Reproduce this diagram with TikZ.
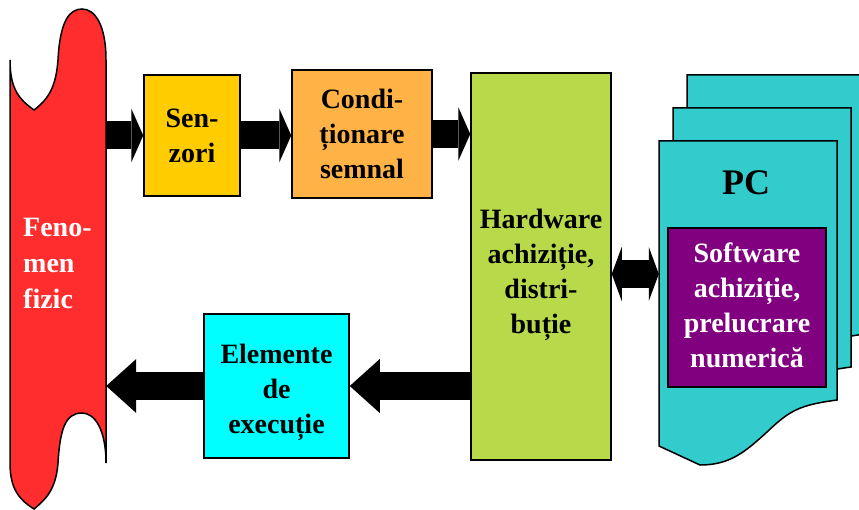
\documentclass[tikz,border=0pt]{standalone}
\usepackage{fontspec}
\setmainfont{Liberation Serif}
\usepackage{tikz}
\usetikzlibrary{arrows.meta}

\definecolor{fenomenred}{RGB}{255,45,45}
\definecolor{senzoriyellow}{RGB}{255,204,0}
\definecolor{condorange}{RGB}{255,179,71}
\definecolor{hwgreen}{RGB}{183,217,74}
\definecolor{pccyan}{RGB}{51,204,204}
\definecolor{swpurple}{RGB}{128,0,128}
\definecolor{execcyan}{RGB}{0,255,255}

% one sheet of the PC stack, shifted by (#1,#2)
\newcommand{\pcsheet}[2]{%
  \draw[sheet, shift={(#1,#2)}] (659,141) -- (837,141) -- (837,400)
    .. controls (800,405) and (790,410) .. (767,432)
    .. controls (745,452) and (730,465) .. (700,465) -- (659,446) -- cycle;}

\begin{document}
\begin{tikzpicture}[x=1pt, y=-1pt,
    box/.style={draw, line width=1.5pt, inner sep=0pt, align=center,
      font=\fontsize{28}{35}\selectfont\bfseries},
    boxtext/.style={inner sep=0pt, align=center,
      font=\fontsize{28}{35}\selectfont\bfseries},
    sheet/.style={draw, line width=1.5pt, fill=pccyan},
    blockarrow/.style={line width=28pt,
      -{Triangle[length=12pt 0, width=54pt 0, line width=0pt]}},
    longarrow/.style={line width=28pt,
      -{Triangle[length=30pt 0, width=54pt 0, line width=0pt]}},
    botharrow/.style={line width=28pt,
      {Triangle[length=10pt 0, width=54pt 0, line width=0pt]}-{Triangle[length=10pt 0, width=54pt 0, line width=0pt]}}]
    \useasboundingbox (0,0) rectangle (859,510);
    \clip (0,0) rectangle (859,510);

    % physical phenomenon (punched tape)
    \draw[line width=1.5pt, fill=fenomenred] (10,60)
      .. controls (10,90) and (20,100) .. (34,110)
      .. controls (50,98) and (56,85) .. (58,60)
      .. controls (60,20) and (70,9) .. (82,9)
      .. controls (95,9) and (106,25) .. (106,60) -- (106,463)
      .. controls (106,430) and (95,413) .. (82,413)
      .. controls (65,413) and (60,430) .. (58,463)
      .. controls (56,490) and (45,500) .. (34,509)
      .. controls (20,500) and (10,490) .. (10,463) -- cycle;
    \node[inner sep=0pt, minimum width=96pt, minimum height=403pt] (fenomen) at (58,261.5) {};
    \node[anchor=west, align=left, inner sep=0pt, text=white,
      font=\fontsize{28}{36}\selectfont\bfseries] (fenomentext) at (23,263) {Feno-\\men\\fizic};

    % PC stack
    \pcsheet{28}{-66}
    \pcsheet{14}{-33}
    \pcsheet{0}{0}
    \node[inner sep=0pt, minimum width=178pt, minimum height=324pt] (pc) at (748,303) {};
    \node[font=\fontsize{36}{40}\selectfont\bfseries] (pclabel) at (746,183) {PC};
    \node[box, fill=swpurple, text=white, minimum width=158pt, minimum height=159pt]
      (software) at (747,307.5) {};
    \node[boxtext, text=white] (softwaretext) at (747,305) {Software\\achiziție,\\prelucrare\\numerică};

    \node[box, fill=senzoriyellow, minimum width=96pt, minimum height=121pt]
      (senzori) at (192,135.5) {Sen-\\zori};
    \node[box, fill=condorange, minimum width=140pt, minimum height=128pt]
      (conditionare) at (362,134) {Condi-\\ționare\\semnal};
    \node[box, fill=hwgreen, minimum width=140pt, minimum height=387pt]
      (hardware) at (541,266.5) {};
    \node[boxtext] (hardwaretext) at (541,274.5) {Hardware\\achiziție,\\distri-\\buție};
    \node[box, fill=execcyan, minimum width=145pt, minimum height=144pt]
      (elemente) at (276.5,386) {};
    \node[boxtext] (elementetext) at (276.5,392) {Elemente\\de\\execuție};

    \draw[blockarrow] (fenomen.east |- senzori.west) -- (senzori.west);
    \draw[blockarrow] (senzori.east) -- (conditionare.west |- senzori.east);
    \draw[blockarrow] (conditionare.east) -- (hardware.west |- conditionare.east);
    \draw[botharrow] (hardware.east |- 0,274) -- (pc.west |- 0,274);
    \draw[longarrow] (hardware.west |- elemente.east) -- (elemente.east);
    \draw[longarrow] (elemente.west) -- (fenomen.east |- elemente.west);
\end{tikzpicture}
\end{document}
